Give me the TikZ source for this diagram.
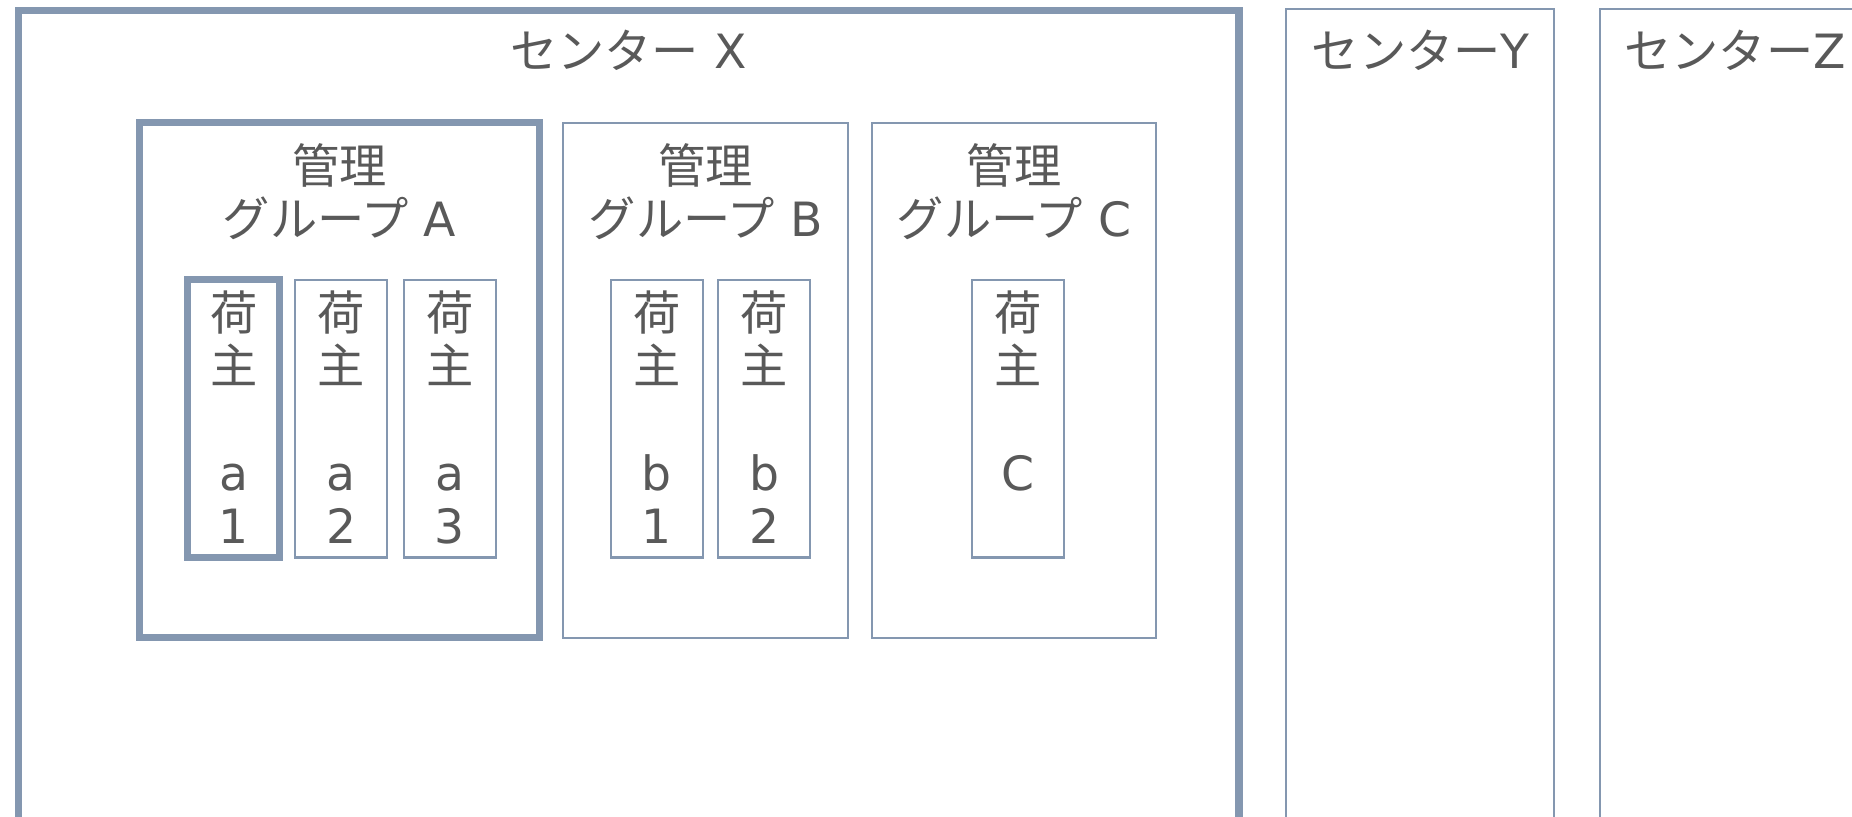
\documentclass[tikz,border=0pt]{standalone}
\usepackage{fontspec}
\setmainfont{DejaVu Sans}
\newfontfamily\jpfont{Noto Sans CJK JP}
\definecolor{frame}{HTML}{8497B0}
\definecolor{txtgray}{HTML}{595959}
\tikzset{
  thickbox/.style={draw=frame, line width=6pt},
  thinbox/.style={draw=frame, line width=1.7pt},
  lbl/.style={font=\fontsize{40}{45}\selectfont, text=txtgray, inner sep=0pt, align=center, anchor=base}
}
\begin{document}
\begin{tikzpicture}[x=1pt,y=-1pt]
    \useasboundingbox (0,0) rectangle (1568,691);
    \clip (0,0) rectangle (1568,691);

    % centers
    \draw[thickbox] (16,9) rectangle (1049,730);
    \draw[thinbox] (1089,8) rectangle (1316,730);
    \draw[thinbox] (1355,8) rectangle (1620,730);
    \node[lbl] (centerX) at (532,58) {{\jpfont センター} X};
    \node[lbl] (centerY) at (1203,58) {{\jpfont センター}Y};
    \node[lbl] (centerZ) at (1469,58) {{\jpfont センター}Z};

    % management groups
    \draw[thickbox] (118,104) rectangle (457,540);
    \draw[thinbox] (477,104) rectangle (718,540);
    \draw[thinbox] (738,104) rectangle (979,540);
    \node[lbl] (groupA) at (287.5,200) {{\jpfont 管理}\\{\jpfont グループ} A};
    \node[lbl] (groupB) at (597.5,200) {{\jpfont 管理}\\{\jpfont グループ} B};
    \node[lbl] (groupC) at (858.5,200) {{\jpfont 管理}\\{\jpfont グループ} C};

    % shippers
    \draw[thickbox] (159,237) rectangle (237,472);
    \draw[thinbox] (250,237) rectangle (328,472);
    \draw[thinbox] (342,237) rectangle (420,472);
    \draw[thinbox] (517,237) rectangle (595,472);
    \draw[thinbox] (608,237) rectangle (686,472);
    \draw[thinbox] (823,237) rectangle (901,472);
    \node[lbl] (shipA1) at (198,460) {{\jpfont 荷}\\{\jpfont 主}\\ \\a\\1};
    \node[lbl] (shipA2) at (289,460) {{\jpfont 荷}\\{\jpfont 主}\\ \\a\\2};
    \node[lbl] (shipA3) at (381,460) {{\jpfont 荷}\\{\jpfont 主}\\ \\a\\3};
    \node[lbl] (shipB1) at (556,460) {{\jpfont 荷}\\{\jpfont 主}\\ \\b\\1};
    \node[lbl] (shipB2) at (647,460) {{\jpfont 荷}\\{\jpfont 主}\\ \\b\\2};
    \node[lbl] (shipC) at (862,415) {{\jpfont 荷}\\{\jpfont 主}\\ \\C};
\end{tikzpicture}
\end{document}
